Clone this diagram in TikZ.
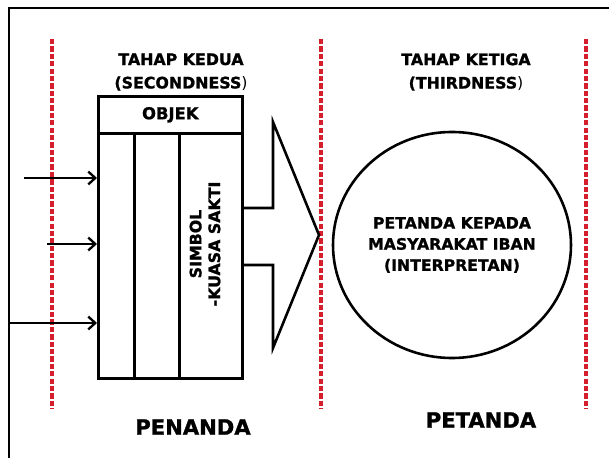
\documentclass[tikz,border=0pt]{standalone}
\usepackage{fontspec}
\setmainfont{DejaVu Sans}[BoldFeatures={FakeBold=1.2}]
\usetikzlibrary{arrows.meta}
\definecolor{stagered}{RGB}{214,31,45}

\begin{document}
\begin{tikzpicture}[x=0.03cm, y=-0.03cm,
    box/.style={draw, line width=2.2pt, inner sep=0pt, anchor=north west},
    lbl/.style={font=\bfseries\fontsize{13.5}{20}\selectfont, align=center},
    stage/.style={stagered, line width=2.7pt, dash pattern=on 4.5pt off 1.8pt},
    feed/.style={-{Straight Barb[length=6pt,width=11pt]}, line width=2pt}]
    \useasboundingbox (0,0) rectangle (609,458);
    \draw[line width=2.2pt] (9,458) -- (9,8) -- (609,8);
    \foreach \x in {52,321,586}
        \draw[stage] (\x,39) -- (\x,409);

    % stage titles
    \node[lbl] (kedua) at (181,72) {TAHAP KEDUA\\(SECONDNESS\textmd{)}};
    \node[lbl] (ketiga) at (466,72) {TAHAP KETIGA\\(THIRDNESS\textmd{)}};

    % the sign
    \node[box, lbl, font=\bfseries\fontsize{14}{16}\selectfont,
        minimum width=4.32cm, minimum height=1.11cm] (objek) at (97,95) {OBJEK};
    \node[box, minimum width=1.08cm, minimum height=7.35cm] (col1) at (97,132) {};
    \node[box, minimum width=1.35cm, minimum height=7.35cm] (col2) at (133,132) {};
    \node[box, minimum width=1.89cm, minimum height=7.35cm] (col3) at (178,132) {};
    \node[lbl, rotate=90, font=\bfseries\fontsize{13.5}{16}\selectfont]
        (simbol) at (205,244) {SIMBOL\\-KUASA SAKTI};

    % big arrow
    \coordinate (tip) at (319,235);
    \draw[line width=2.2pt, line join=miter] (col3.east |- 0,208) -- (273,208) -- (273,122)
        -- (tip) -- (273,348) -- (273,265) -- (col3.east |- 0,265);

    % interpretant
    \node[lbl, font=\bfseries\fontsize{13.4}{18}\selectfont] (interp) at (452,245)
        {PETANDA KEPADA\\MASYARAKAT IBAN\\(INTERPRETAN)};
    \draw[line width=2.2pt] (interp.center) ellipse (119 and 113);

    % inputs
    \coordinate (in1) at (24,178);
    \coordinate (in2) at (47,244);
    \coordinate (in3) at (9,323);
    \foreach \p in {in1,in2,in3}
        \draw[feed] (\p) -- (\p -| col1.west);

    \node[lbl, font=\bfseries\fontsize{18}{20}\selectfont] (penanda) at (193,427) {PENANDA};
    \node[lbl, font=\bfseries\fontsize{18}{20}\selectfont] (petanda) at (481,420) {PETANDA};
\end{tikzpicture}
\end{document}
